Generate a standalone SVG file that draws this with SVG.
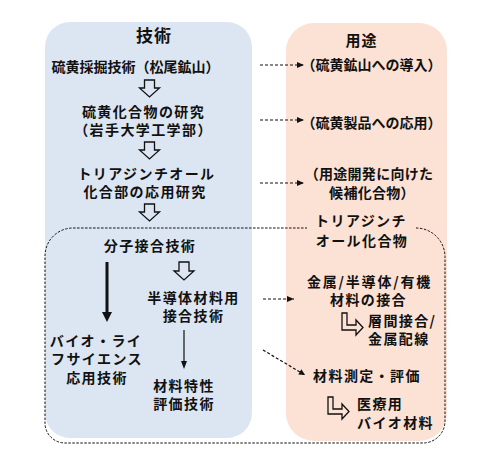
<svg xmlns="http://www.w3.org/2000/svg" width="490" height="465" viewBox="0 0 490 465">
<defs>
<style>
text{font-family:"Noto Sans CJK JP","Noto Sans",sans-serif;font-weight:bold;font-size:14px;fill:#111;text-anchor:middle;letter-spacing:1.4px}
.s{text-anchor:start}
.h{font-size:17px;letter-spacing:1px}
.hollow{fill:none;stroke:#111;stroke-width:1.3;stroke-linejoin:miter}
.dash{fill:none;stroke:#111;stroke-width:1.2;stroke-dasharray:3 2}
.region{fill:none;stroke:#111;stroke-width:1;stroke-dasharray:2.5 1.5}
</style>
<marker id="ah" markerUnits="userSpaceOnUse" markerWidth="8" markerHeight="8" refX="7" refY="4" orient="auto"><path d="M0,1 L7,4 L0,7 Z" fill="#111"/></marker>
<marker id="ahs" markerUnits="userSpaceOnUse" markerWidth="8" markerHeight="8" refX="7" refY="4" orient="auto"><path d="M1,1 L7,4 L1,7 Z" fill="#111"/></marker>
</defs>
<g id="panels">
<rect id="tech-panel" x="45" y="22" width="207" height="416" rx="25" fill="#dce6f2"/>
<rect id="use-panel" x="286" y="23" width="161" height="418" rx="28" fill="#fbe2d5"/>
</g>
<g id="region">
<path class="region" d="M416,228 A29,29 0 0 1 445,257 V421 A22,22 0 0 1 423,443 H65 A20,20 0 0 1 45,423 V256 A28,28 0 0 1 73,228 H307"/>
</g>
<g id="connectors">
<path class="hollow" d="M144.5,80 V88 H139.5 L149.5,97 L159.5,88 H154.5 V80 Z"/>
<path class="hollow" d="M144.5,142 V150 H139.5 L149.5,159 L159.5,150 H154.5 V142 Z"/>
<path class="hollow" d="M144.5,204 V212 H139.5 L149.5,221 L159.5,212 H154.5 V204 Z"/>
<path class="hollow" d="M179,262 V271 H174 L184,280 L194,271 H189 V262 Z"/>
<line x1="107" y1="262" x2="107" y2="313" stroke="#111" stroke-width="3"/>
<path d="M102,312 L112,312 L107,322 Z" fill="#111"/>
<line x1="184" y1="330" x2="184" y2="362" stroke="#111" stroke-width="1.2"/>
<path d="M181,361 L187,361 L184,369 Z" fill="#111"/>
<line class="dash" x1="260" y1="65" x2="304" y2="65" marker-end="url(#ah)"/>
<line class="dash" x1="260" y1="120" x2="304" y2="120" marker-end="url(#ah)"/>
<line class="dash" x1="260" y1="183" x2="304" y2="183" marker-end="url(#ah)"/>
<line class="dash" x1="263" y1="299" x2="294" y2="299" marker-end="url(#ah)"/>
<line class="dash" x1="263" y1="350" x2="305" y2="375" marker-end="url(#ahs)"/>
<path class="hollow" d="M342,313 H347 V325 H356 V320 L363,327.5 L356,335 V330 H342 Z"/>
<path class="hollow" d="M328,397 H333 V409 H342 V404 L349,411.5 L342,419 V414 H328 Z"/>
</g>
<g id="tech-title"><text class="h" x="154" y="42">技術</text></g>
<g id="n1"><text x="135.5" y="72" style="letter-spacing:0px">硫黄採掘技術（松尾鉱山）</text></g>
<g id="n2"><text x="143.5" y="116.5">硫黄化合物の研究</text><text x="143.5" y="134.5">（岩手大学工学部）</text></g>
<g id="n3"><text x="146.5" y="178.5">トリアジンチオール</text><text x="145" y="196.5">化合部の応用研究</text></g>
<g id="n4"><text x="150" y="250.5">分子接合技術</text></g>
<g id="n5"><text x="193.5" y="302.5">半導体材料用</text><text x="193.5" y="320.5">接合技術</text></g>
<g id="n6"><text x="96" y="345.5">バイオ・ライ</text><text x="97" y="363.5">フサイエンス</text><text x="97" y="382.5">応用技術</text></g>
<g id="n7"><text x="184" y="390.5">材料特性</text><text x="184" y="408.5">評価技術</text></g>
<g id="use-title"><text x="361.5" y="45.5" style="font-size:15px;letter-spacing:1px">用途</text></g>
<g id="u1"><text x="371.5" y="69.5" style="letter-spacing:0px">（硫黄鉱山への導入）</text></g>
<g id="u2"><text x="371.5" y="127.5" style="letter-spacing:0px">（硫黄製品への応用）</text></g>
<g id="u3"><text x="369" y="178.5" style="letter-spacing:0.3px">（用途開発に向けた</text><text x="372" y="197.5" style="letter-spacing:0.3px">候補化合物）</text></g>
<g id="u4"><text x="361" y="225.5">トリアジンチ</text><text x="362" y="245.5">オール化合物</text></g>
<g id="u5"><text x="369.5" y="286.5" style="letter-spacing:1.8px">金属/半導体/有機</text><text x="368.5" y="304.5">材料の接合</text></g>
<g id="u6"><text class="s" x="368" y="325.5">層間接合/</text><text class="s" x="368" y="343.5">金属配線</text></g>
<g id="u7"><text x="367" y="380.5">材料測定・評価</text></g>
<g id="u8"><text class="s" x="357" y="408.5">医療用</text><text class="s" x="357" y="427.5">バイオ材料</text></g>
</svg>
